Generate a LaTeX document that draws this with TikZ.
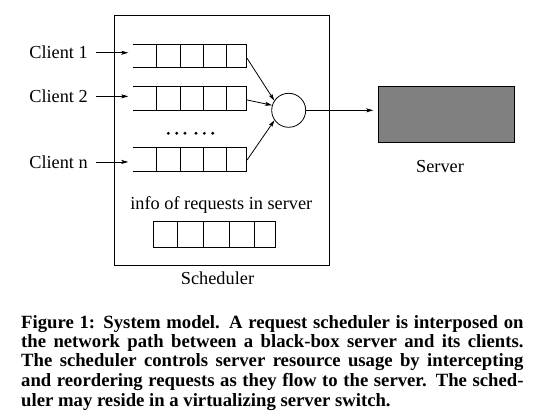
\documentclass[tikz,border=0pt]{standalone}
\usepackage{fontspec}
\setmainfont{Liberation Serif}
\usetikzlibrary{arrows.meta,calc}
\definecolor{srvgray}{gray}{0.5}
\newcommand\openqueue[1]{%
  \draw[ln] (#1.north west) -- (#1.north east);
  \draw[ln] (#1.south west) -- (#1.south east);
  \foreach \d in {23.4,46.7,70,93.4,113.4}
    \draw[ln] ([xshift=\d pt]#1.north west) -- ([xshift=\d pt]#1.south west);
}
\begin{document}
\begin{tikzpicture}[x=1pt,y=-1pt,
  ln/.style={line width=0.8pt},
  arr/.style={ln,-{Stealth[length=7pt,width=4pt,inset=1.5pt]}},
  lbl/.style={inner sep=0pt,font=\fontsize{18.3}{22}\selectfont},
  captext/.style={inner sep=0pt,anchor=base west,font=\fontsize{18.7}{19.5}\selectfont\bfseries},
  qbox/.style={inner sep=0pt,minimum width=113.4pt,minimum height=23.4pt,anchor=north west},
]
\useasboundingbox[fill=white] (0,0) rectangle (552,420);

% scheduler box
\node[draw,ln,inner sep=0pt,minimum width=214.4pt,minimum height=250pt,anchor=north west] (sched) at (114.3,15) {};

% queues
\node[qbox] (q1) at (133.3,44) {};
\node[qbox] (q2) at (133.3,86.7) {};
\node[qbox] (qn) at (133.3,147.5) {};
\openqueue{q1}
\openqueue{q2}
\openqueue{qn}

% info queue
\node[draw,ln,inner sep=0pt,minimum width=122.3pt,minimum height=25.7pt,anchor=north west] (qi) at (152.7,221) {};
\foreach \d in {24.6,50.6,76.6,102}
  \draw[ln] ([xshift=\d pt]qi.north west) -- ([xshift=\d pt]qi.south west);

% dots
\foreach \x in {168.3,176.7,185,196,204.3,212.7}
  \fill (\x,133.3) circle[radius=1.6pt];

% multiplexer and server
\node[draw,ln,circle,minimum size=34pt,inner sep=0pt] (mux) at (288.7,110.3) {};
\node[draw,ln,fill=srvgray,inner sep=0pt,minimum width=136pt,minimum height=56.3pt,anchor=north west] (srv) at (378.3,86) {};

% client labels
\node[lbl,anchor=base east] (c1) at (88,59) {Client 1};
\node[lbl,anchor=base east] (c2) at (88,102.6) {Client 2};
\node[lbl,anchor=base east] (cn) at (88,168.2) {Client n};

\draw[arr] ([xshift=8pt]c1.east) -- ([xshift=-5pt]c1.east -| q1.west);
\draw[arr] ([xshift=8pt]c2.east) -- ([xshift=-5pt]c2.east -| q2.west);
\draw[arr] ([xshift=8pt]cn.east) -- ([xshift=-5pt]cn.east -| qn.west);

\draw[arr] ([yshift=-14.3pt]q1.north east) -- (mux.146);
\draw[arr] ([yshift=-13.3pt]q2.north east) -- (mux.163);
\draw[arr] ([yshift=-12.5pt]qn.north east) -- (mux.215);
\draw[arr] (mux.east) -- ([xshift=-5pt]mux.east -| srv.west);

% texts
\node[lbl,anchor=base] (info) at (221.3,209) {info of requests in server};
\node[lbl,anchor=base] (srvlbl) at (440,172) {Server};
\begin{scope}
  \clip (150,262) rectangle (290,285);
  \node[lbl,anchor=base] (schedlbl) at (217.5,284.5) {Scheduler};
\end{scope}

% caption
\node[captext] (cap1) at (21,328.3) {\makebox[502.3pt][s]{Figure 1: System model.  A request scheduler is interposed on}};
\node[captext] (cap2) at (21,347.2) {\makebox[502.3pt][s]{the network path between a black-box server and its clients.}};
\node[captext] (cap3) at (21,366.7) {\makebox[502.3pt][s]{The scheduler controls server resource usage by intercepting}};
\node[captext] (cap4) at (21,386.2) {\makebox[502.3pt][s]{and reordering requests as they flow to the server.  The sched-}};
\node[captext] (cap5) at (21,406) {uler may reside in a virtualizing server switch.};
\end{tikzpicture}
\end{document}
